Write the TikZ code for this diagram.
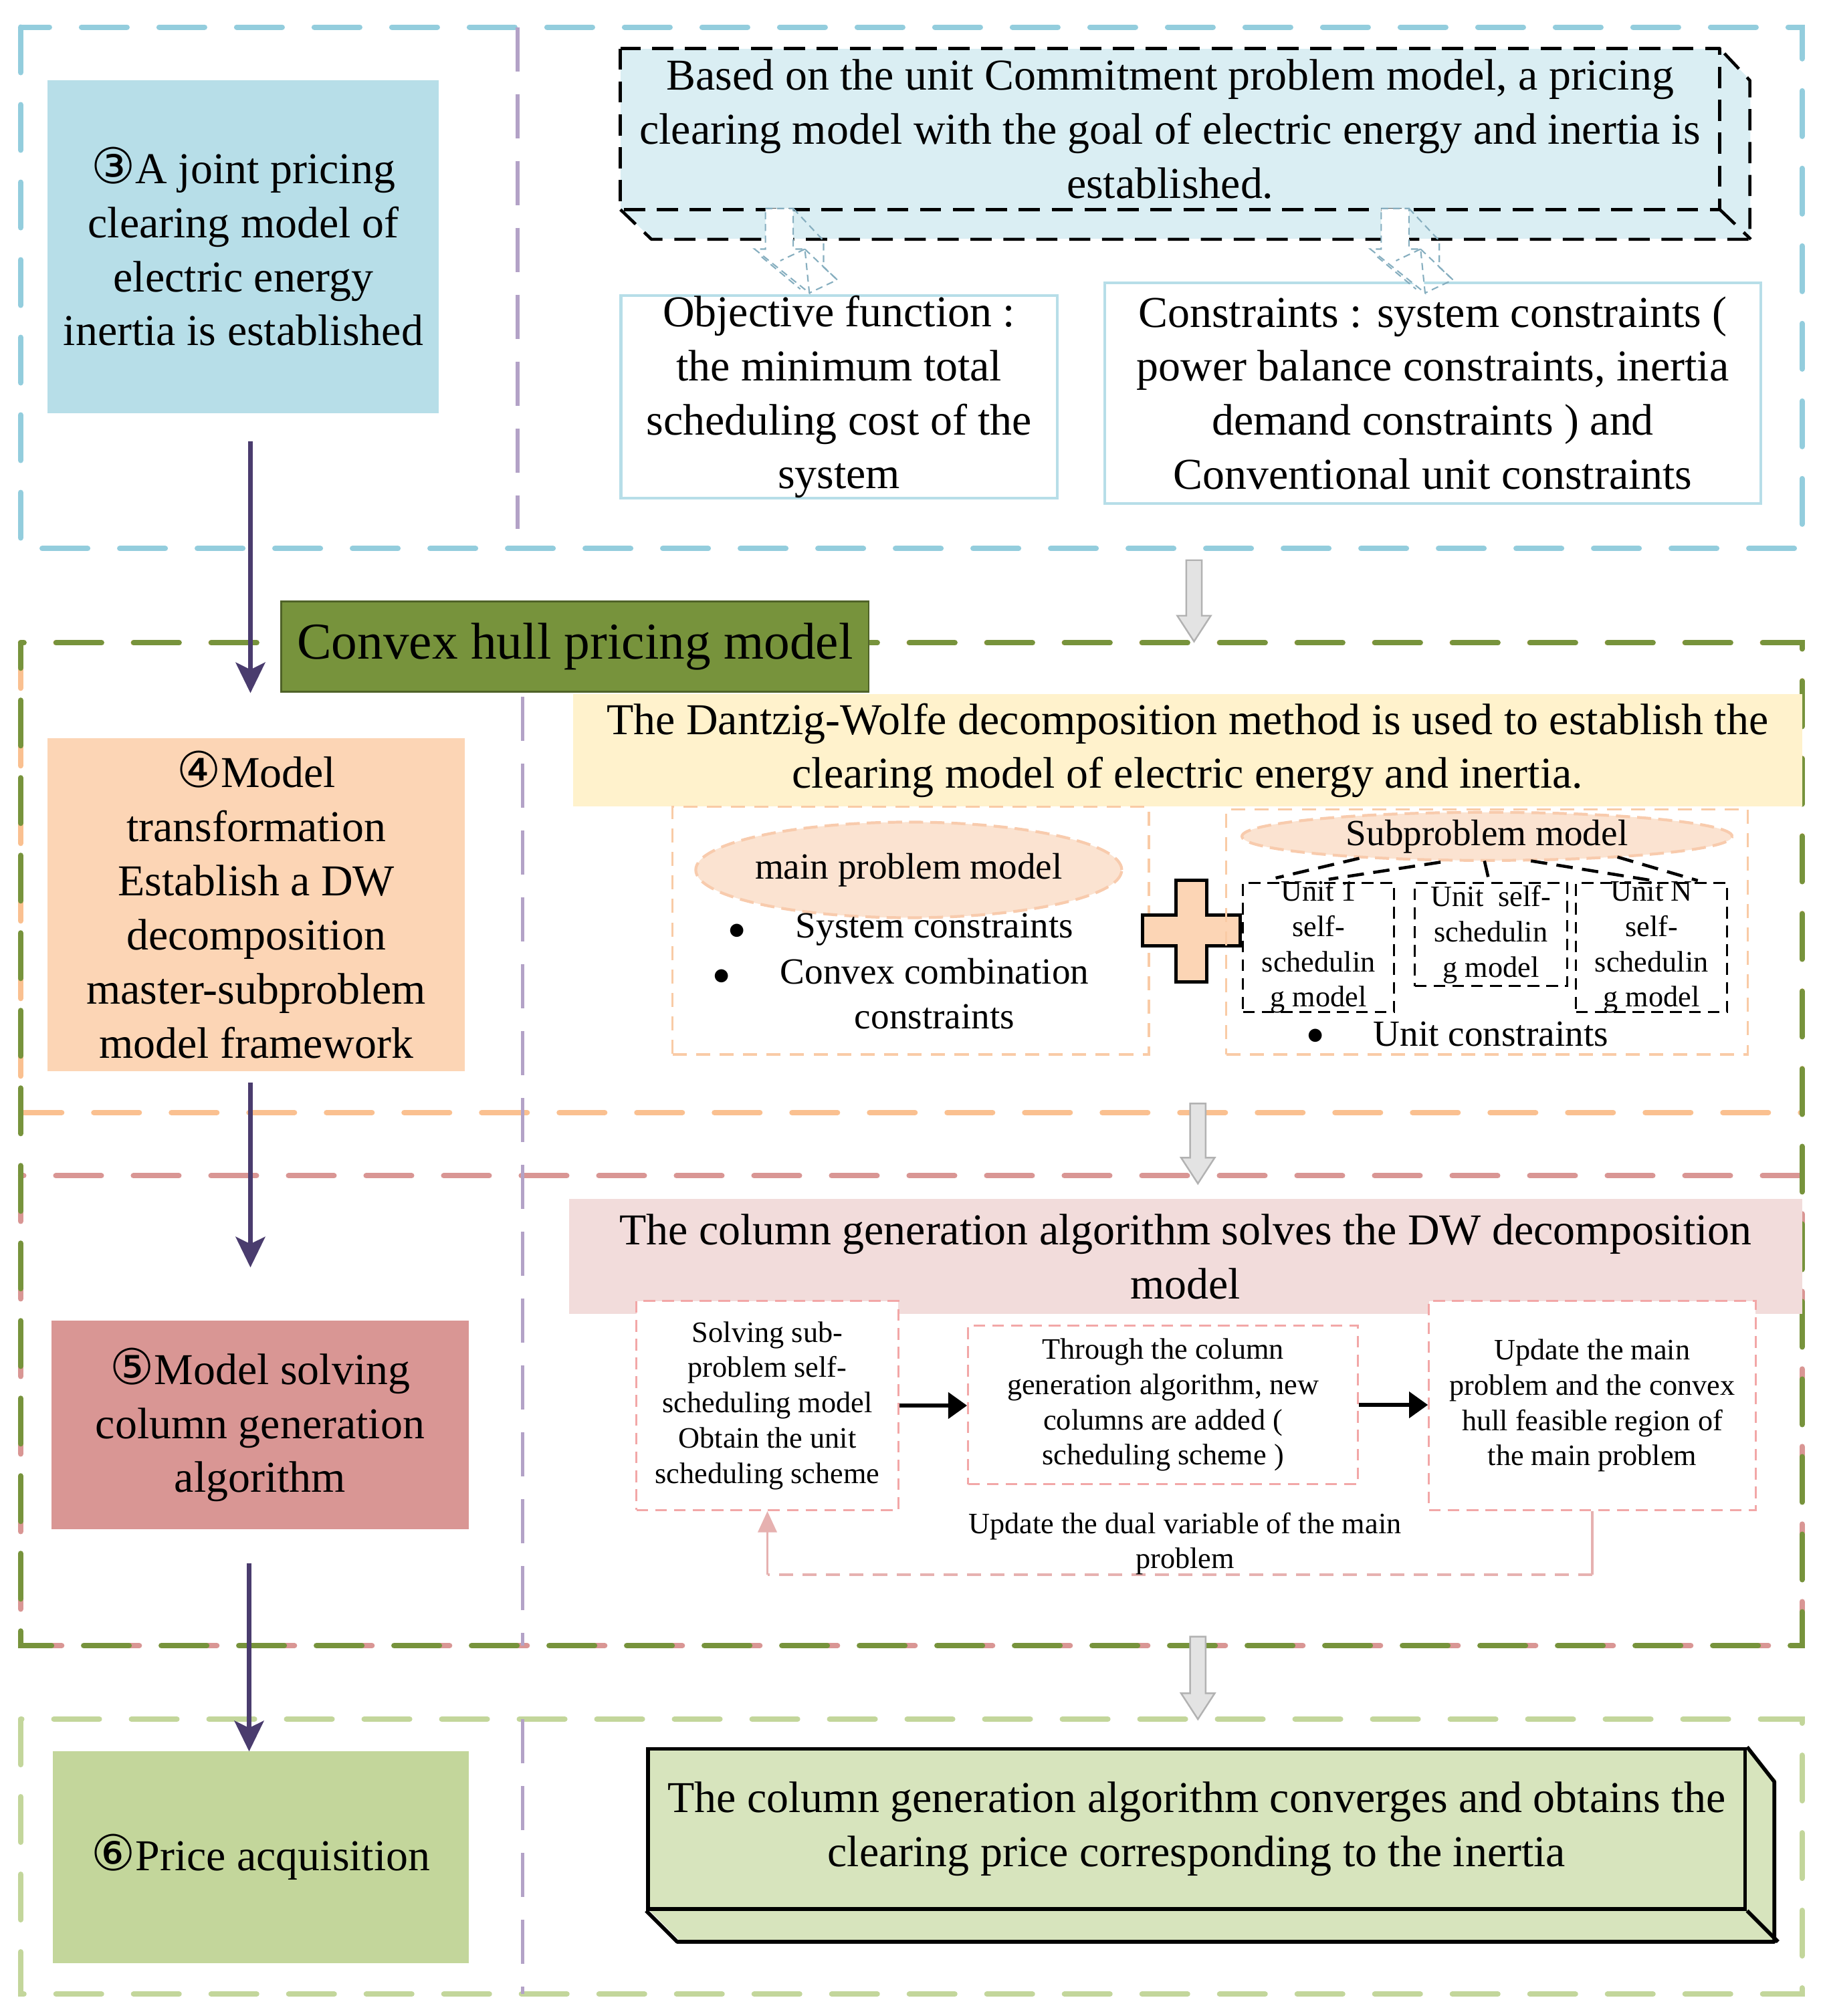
\documentclass[tikz,border=0pt]{standalone}
\usepackage{fontspec}
\setmainfont{Liberation Serif}
\newfontfamily\circfont{DejaVu Sans}
\usetikzlibrary{arrows.meta,shapes.geometric,fit,calc}
\definecolor{secblue}{HTML}{93CDDD}
\definecolor{secpurple}{HTML}{B3A2C7}
\definecolor{secgreen}{HTML}{77933C}
\definecolor{secorange}{HTML}{FAC090}
\definecolor{secred}{HTML}{D99694}
\definecolor{seclgreen}{HTML}{C3D69B}
\definecolor{fillblue}{HTML}{B7DEE8}
\definecolor{fillorange}{HTML}{FCD5B5}
\definecolor{fillred}{HTML}{D99694}
\definecolor{fillgreen}{HTML}{C3D69B}
\definecolor{topfill}{HTML}{DAEEF3}
\definecolor{botfill}{HTML}{D7E4BD}
\definecolor{yellowband}{HTML}{FFF2CC}
\definecolor{pinkband}{HTML}{F2DCDB}
\definecolor{arrowpurple}{HTML}{4A3C6E}
\definecolor{hullgreen}{HTML}{77933C}
\definecolor{hullborder}{HTML}{4F6228}
\definecolor{ellfill}{HTML}{FBE3D1}
\definecolor{elldraw}{HTML}{F8CBAD}
\definecolor{lightorange}{HTML}{F9CBA6}
\definecolor{cgpink}{HTML}{F2A7A7}
\definecolor{fbpink}{HTML}{E6B1B0}
\definecolor{boxblue}{HTML}{B7DEE8}
\definecolor{arrthree}{HTML}{86AEBF}
\newcommand\cnum[1]{{\circfont\fontsize{21}{22}\selectfont #1}}
\newcommand\grayarr[3]{\draw[hollow] (#1-6,#2) -- (#1+6,#2) -- (#1+6,#3-20) -- (#1+13,#3-20) -- (#1,#3) -- (#1-13,#3-20) -- (#1-6,#3-20) -- cycle;}
\begin{document}
\begin{tikzpicture}[x=0.0193cm,y=-0.0193cm,
  section/.style={line width=2.3pt, line cap=round, dash pattern=on 0.68cm off 0.48cm},
  divider/.style={secpurple, line width=1.5pt, dash pattern=on 0.66cm off 0.34cm},
  big/.style={font=\fontsize{18.75}{23}\selectfont, align=center, text=black, inner sep=0pt},
  mid/.style={font=\fontsize{15.7}{19.2}\selectfont, align=center, text=black, inner sep=0pt},
  small/.style={font=\fontsize{12.6}{15}\selectfont, align=center, text=black, inner sep=0pt},
  flow/.style={arrowpurple, line width=2pt, -{Stealth[length=13pt,width=12.5pt,inset=3pt]}},
  blackdash/.style={draw=black, line width=1.3pt, dash pattern=on 9pt off 5pt, line join=round},
  solidedge/.style={draw=black, line width=1.6pt, line join=round},
  arrdash/.style={draw=arrthree, line width=0.6pt, dash pattern=on 3pt off 2pt},
  hollow/.style={draw=gray!60, fill=gray!22, line width=0.7pt},
  lightbox/.style={draw=lightorange, line width=1pt, dash pattern=on 6pt off 4pt, inner sep=0pt},
  unitbox/.style={draw=black, line width=0.8pt, dash pattern=on 5pt off 3pt, inner sep=0pt},
  unitline/.style={draw=black, line width=1.3pt, dash pattern=on 7pt off 4pt},
  ellnode/.style={ellipse, fill=ellfill, draw=elldraw, line width=1.2pt, dash pattern=on 6pt off 3pt, inner sep=0pt},
  cgbox/.style={draw=cgpink, line width=0.9pt, dash pattern=on 5pt off 3pt, inner sep=0pt},
  cgarrow/.style={black, line width=1.6pt, -{Triangle[length=8pt,width=11pt]}},
  fbline/.style={fbpink, line width=1pt}
]
\useasboundingbox (0,0) rectangle (1412,1562);

% ---------- section frames ----------
\draw[section,secblue] (16,21) rectangle (1396,425);
\draw[section,secorange] (16,498) rectangle (1396,862);
\draw[section,secred] (16,911) rectangle (1396,1275);
\draw[section,secgreen,dash phase=0.3cm] (16,498) rectangle (1396,1275);
\draw[section,seclgreen] (16,1332) rectangle (1396,1545);
\draw[divider] (401,21) -- (401,410);
\draw[divider] (405,540) -- (405,1275);
\draw[divider] (405,1332) -- (405,1545);

% ---------- left column ----------
\node[fit={(37,62)(340,320)}, inner sep=0pt, fill=fillblue] (s3) {};
\node[big] (s3t) at (s3.center) {\cnum{③}A joint pricing\\clearing model of\\electric energy\\inertia is established};
\node[fit={(218,466)(673,536)}, inner sep=0pt, fill=hullgreen, draw=hullborder, line width=0.8pt] (hull) {};
\node[font=\fontsize{22}{26}\selectfont, inner sep=0pt] (hullt) at (hull.center) {Convex hull pricing model};
\node[fit={(37,572)(360,830)}, inner sep=0pt, fill=fillorange] (s4) {};
\node[big] (s4t) at (s4.center) {\cnum{④}Model\\transformation\\Establish a DW\\decomposition\\master-subproblem\\model framework};
\node[fit={(40,1023)(363,1185)}, inner sep=0pt, fill=fillred] (s5) {};
\node[big] (s5t) at (s5.center) {\cnum{⑤}Model solving\\column generation\\algorithm};
\node[fit={(41,1357)(363,1521)}, inner sep=0pt, fill=fillgreen] (s6) {};
\node[big] (s6t) at (s6.center) {\cnum{⑥}Price acquisition};

\coordinate (f1a) at (194,342); \coordinate (f1b) at (194,537);
\coordinate (f2a) at (194,839); \coordinate (f2b) at (194,982);
\coordinate (f3a) at (193,1211); \coordinate (f3b) at (193,1357);
\draw[flow] (f1a) -- (f1b);
\draw[flow] (f2a) -- (f2b);
\draw[flow] (f3a) -- (f3b);

% ---------- top 3D box ----------
\fill[topfill] (481,162) -- (505,185) -- (1356,185) -- (1356,62) -- (1332,38) -- (1332,162) -- cycle;
\node[fit={(481,38)(1332,162)}, inner sep=0pt, fill=topfill] (tb) {};
\node[big] (tbt) at (tb.center) {Based on the unit Commitment problem model, a pricing\\clearing model with the goal of electric energy and inertia is\\established.};
\draw[blackdash] (tb.north west) rectangle (tb.south east);
\draw[blackdash] (tb.south west) -- ++(24,23) -- ++(851,0) -- ++(0,-123) -- (tb.north east);
\draw[blackdash] (tb.south east) -- ++(24,23);

\node[fit={(481,229)(819,386)}, inner sep=0pt, draw=boxblue, line width=1.2pt] (obj) {};
\node[big] (objt) at (obj.center) {Objective function :\\the minimum total\\scheduling cost of the\\system};
\node[fit={(856,219)(1364,390)}, inner sep=0pt, draw=boxblue, line width=1.2pt] (cons) {};
\node[big] (const) at (cons.center) {Constraints : system constraints (\\power balance constraints, inertia\\demand constraints ) and\\Conventional unit constraints};

\foreach \dx in {0,477} {
  \begin{scope}[shift={(\dx,0)}]
    \filldraw[arrdash, fill=white] (593,161.5) -- (614.5,161.5) -- (614.5,193) -- (623.5,193) -- (627,227) -- (584.6,193) -- (593,193) -- cycle;
    \draw[arrdash] (614.5,161.5) -- (638,186.5) -- (638,207) -- (648.6,216.8) -- (627,227);
    \draw[arrdash] (623.5,193) -- (648.6,216.8);
    \draw[arrdash] (623.5,193) -- (604.5,202);
    \draw[arrdash] (590,199) -- (620,224);
  \end{scope}
}

% ---------- gray arrows ----------
\grayarr{925}{434}{497}
\grayarr{928}{855}{917}
\grayarr{928}{1268}{1332}

% ---------- section 2 right ----------
\node[fit={(444,538)(1396,625)}, inner sep=0pt, fill=yellowband] (dw) {};
\node[big] (dwt) at (dw.center) {The Dantzig-Wolfe decomposition method is used to establish the\\clearing model of electric energy and inertia.};
\node[fit={(521,625)(890,817)}, lightbox] (mainc) {};
\node[ellnode, minimum width=6.37cm, minimum height=1.43cm] (mainell) at (704,674) {};
\node[mid] (mainellt) at (mainell.center) {main problem model};
\node[mid] (b1) at (571,722) {$\bullet$};
\node[mid] (t1) at (724,720) {System constraints};
\node[mid] (b2) at (559,757) {$\bullet$};
\node[mid, anchor=north] (t2) at (724,742) {Convex combination\\constraints};

\filldraw[fill=fillorange, draw=black, line width=1.4pt] (911,682) -- (935,682) -- (935,709) -- (961,709) -- (961,733) -- (935,733) -- (935,761) -- (911,761) -- (911,733) -- (885,733) -- (885,709) -- (911,709) -- cycle;

\node[fit={(950,627)(1354,817)}, lightbox] (subc) {};
\node[ellnode, minimum width=7.33cm, minimum height=0.72cm] (subell) at (1152,648) {};
\node[mid] (subellt) at (subell.center) {Subproblem model};
\node[fit={(963,684)(1080,784)}, unitbox] (u1) {};
\node[small] (u1t) at (u1.center) {Unit 1\\self-\\schedulin\\g model};
\node[fit={(1096,684)(1214,764)}, unitbox] (u2) {};
\node[small] (u2t) at (u2.center) {Unit~ self-\\schedulin\\g model};
\node[fit={(1221,684)(1338,784)}, unitbox] (un) {};
\node[small] (unt) at (un.center) {Unit N\\self-\\schedulin\\g model};
\draw[unitline] ($(subell.center)+(-99,17)$) -- ($(u1.north west)+(26,-3)$);
\draw[unitline] ($(subell.center)+(-36,20)$) -- ($(u1.north west)+(67,-2)$);
\draw[unitline] ($(subell.center)+(-2,19)$) -- ($(u2.north west)+(58,-2)$);
\draw[unitline] ($(subell.center)+(34,19)$) -- ($(un.north west)+(60,-1)$);
\draw[unitline] ($(subell.center)+(101,16)$) -- ($(un.north west)+(95,-1)$);
\node[mid] (b3) at (1019,803) {$\bullet$};
\node[mid] (t3) at (1155,801) {Unit constraints};

% ---------- section 3 right ----------
\node[fit={(441,929)(1396,1018)}, inner sep=0pt, fill=pinkband] (cg) {};
\node[big] (cgt) at (cg.center) {The column generation algorithm solves the DW decomposition\\model};
\node[fit={(493,1008)(696,1170)}, cgbox, fill=white] (cga) {};
\node[small] (cgat) at (cga.center) {Solving sub-\\problem self-\\scheduling model\\Obtain the unit\\scheduling scheme};
\node[fit={(750,1027)(1052,1150)}, cgbox] (cgb) {};
\node[small] (cgbt) at (cgb.center) {Through the column\\generation algorithm, new\\columns are added (\\scheduling scheme )};
\node[fit={(1107,1008)(1360,1170)}, cgbox, fill=white] (cgc) {};
\node[small] (cgct) at (cgc.center) {Update the main\\problem and the convex\\hull feasible region of\\the main problem};
\draw[cgarrow] (cga.east) -- (cga.east -| cgb.west);
\draw[cgarrow] (cgb.east) -- (cgb.east -| cgc.west);
\coordinate (fbl) at (0,1220);
\draw[fbline] (cgc.south) -- (cgc.south |- fbl);
\draw[fbline, dash pattern=on 6pt off 4pt] (cgc.south |- fbl) -- (cga.south |- fbl);
\draw[fbline, -{Triangle[length=9pt,width=8pt]}] (cga.south |- fbl) -- (cga.south);
\node[small] (fblab) at (918,1196) {Update the dual variable of the main\\problem};

% ---------- section 4 right ----------
\fill[botfill] (502,1479) -- (526,1503) -- (1376,1503) -- (1376,1379) -- (1352,1355) -- (1352,1479) -- cycle;
\node[fit={(502,1355)(1352,1479)}, inner sep=0pt, fill=botfill, draw=black, line width=1.6pt] (final) {};
\node[big] (finalt) at (final.center) {The column generation algorithm converges and obtains the\\clearing price corresponding to the inertia};
\draw[solidedge] (final.south west) -- ++(24,24) -- ++(850,0) -- ++(0,-124) -- (final.north east);
\draw[solidedge] (final.south east) -- ++(24,24);
\end{tikzpicture}
\end{document}
